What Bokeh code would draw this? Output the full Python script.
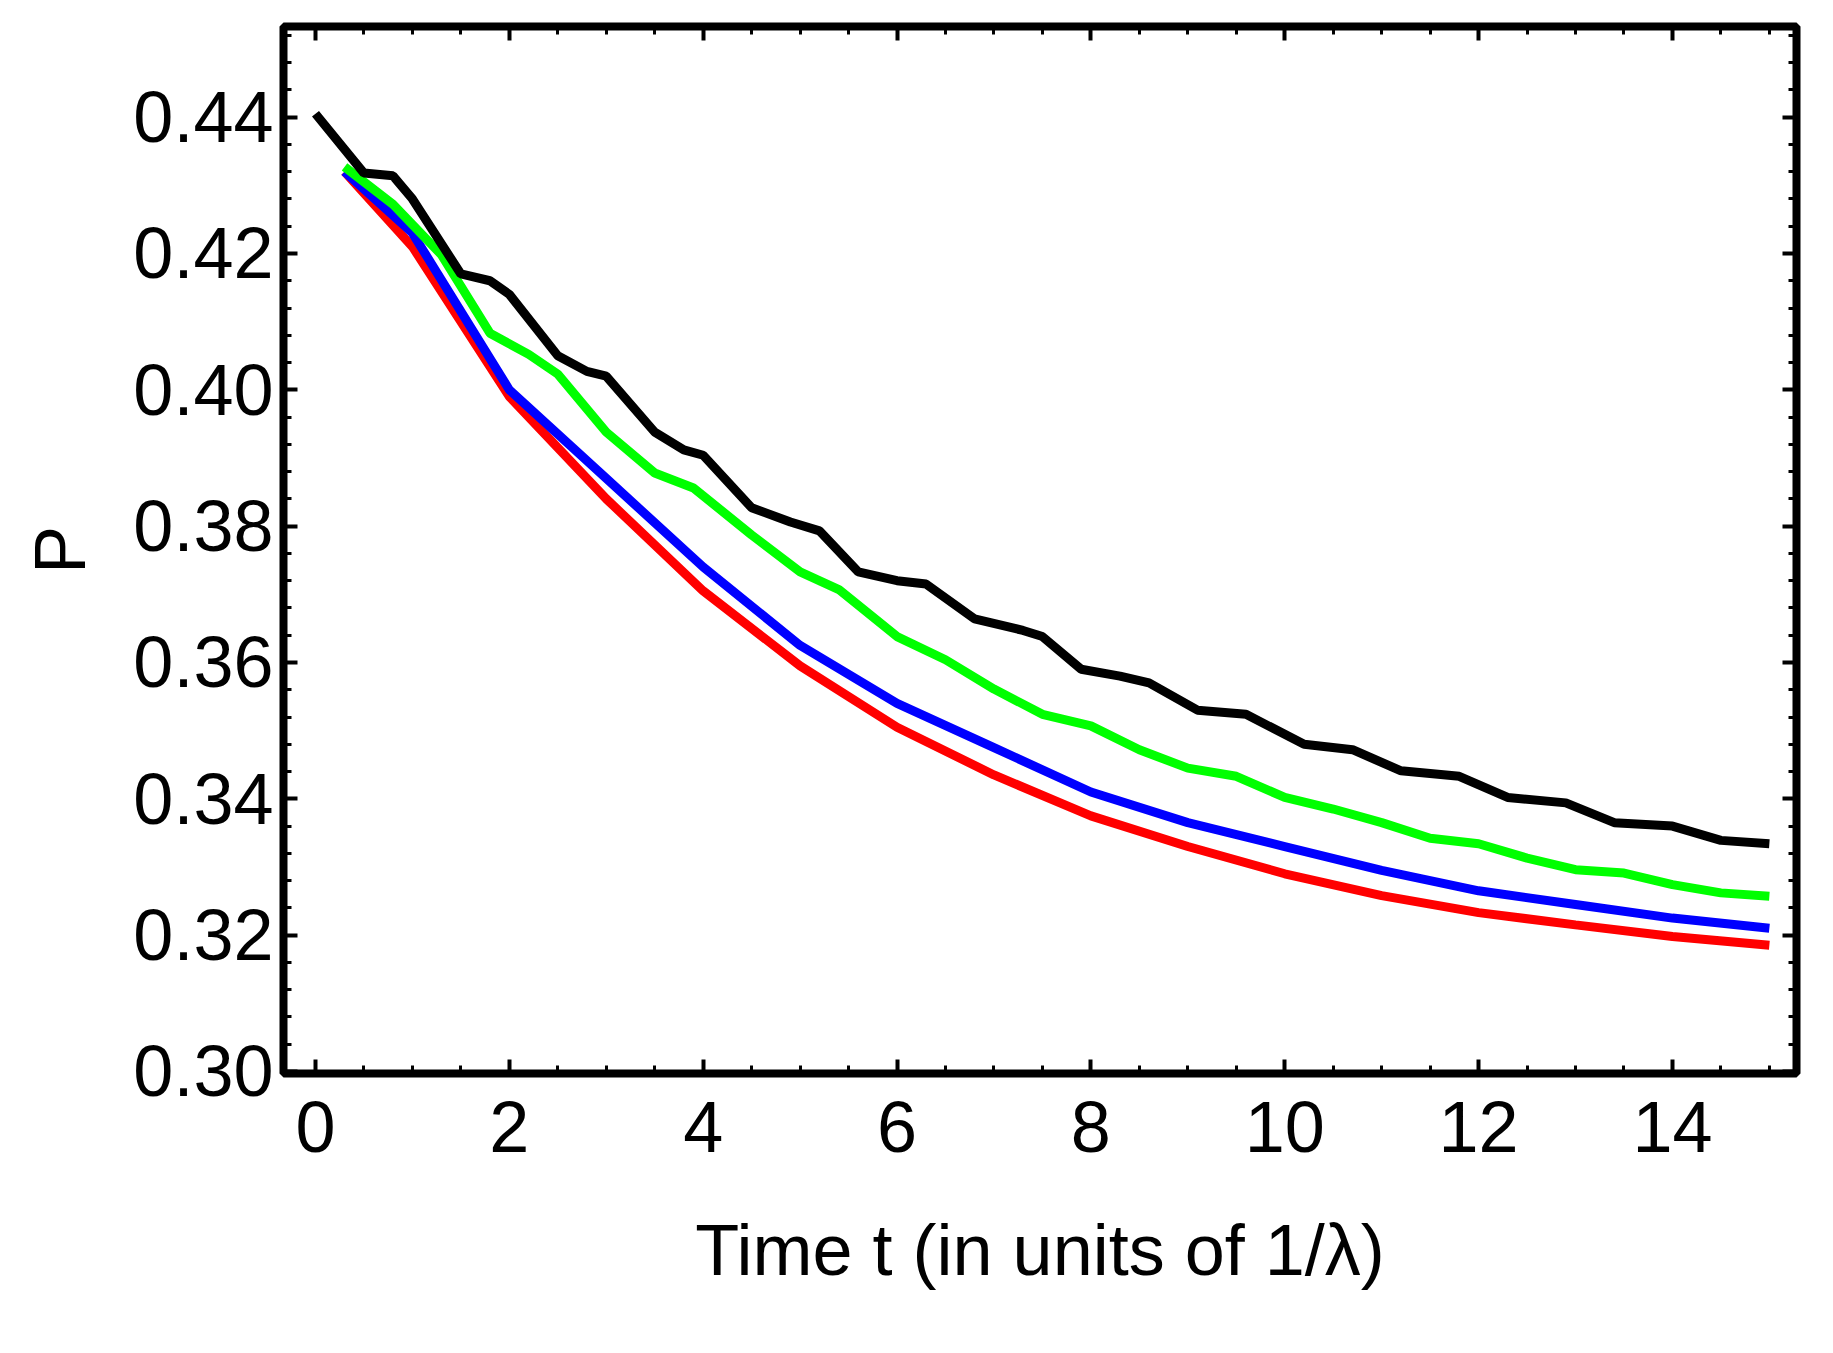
from bokeh.plotting import figure
from bokeh.models import LinearAxis, Range1d, FixedTicker
from bokeh.embed import file_html
from bokeh.resources import INLINE

t_black = [0,0.5,0.8,1.0,1.5,1.8,2.0,2.5,2.8,3.0,3.5,3.8,4.0,4.5,4.9,5.2,5.6,6.0,6.3,6.8,7.3,7.5,7.9,8.3,8.6,9.1,9.6,10.2,10.7,11.2,11.8,12.3,12.9,13.4,14.0,14.5,15.0]
p_black = [0.4405,0.4318,0.4314,0.428,0.417,0.416,0.414,0.405,0.4027,0.402,0.3938,0.3912,0.3904,0.3827,0.3806,0.3793,0.3733,0.372,0.3715,0.3664,0.3647,0.3638,0.359,0.358,0.357,0.353,0.3524,0.348,0.3472,0.3441,0.3433,0.3402,0.3394,0.3365,0.336,0.3339,0.3334]
t_green = [0.3,0.8,1.3,1.8,2.2,2.5,3.0,3.5,3.9,4.5,5.0,5.4,6.0,6.5,7.0,7.5,8.0,8.5,9.0,9.5,10.0,10.5,11.0,11.5,12.0,12.5,13.0,13.5,14.0,14.5,15.0]
p_green = [0.4327,0.4272,0.4198,0.4083,0.4052,0.4023,0.3938,0.3878,0.3856,0.3787,0.3733,0.3707,0.3638,0.3604,0.3561,0.3524,0.3507,0.3472,0.3445,0.3433,0.3402,0.3385,0.3365,0.3342,0.3334,0.3313,0.3296,0.3291,0.3274,0.3262,0.3257]
t_blue = [0.3,1,2,3,4,5,6,7,8,9,10,11,12,13,14,15]
p_blue = [0.432,0.423,0.400,0.387,0.374,0.3625,0.354,0.3475,0.341,0.3365,0.333,0.3295,0.3265,0.3245,0.3225,0.321]
t_red = [0.3,1,2,3,4,5,6,7,8,9,10,11,12,13,14,15]
p_red = [0.432,0.421,0.399,0.384,0.3705,0.3595,0.3505,0.3435,0.3375,0.333,0.329,0.3258,0.3233,0.3215,0.3198,0.3185]
x_ticks = [0,2,4,6,8,10,12,14]
y_ticks = [0.30,0.32,0.34,0.36,0.38,0.40,0.42,0.44]

p = figure(width=1817, height=1337, output_backend="svg", toolbar_location=None,
           x_range=Range1d(-0.33, 15.28), y_range=Range1d(0.2997, 0.4533),
           min_border_left=283, min_border_right=21, min_border_top=26, min_border_bottom=264)
p.grid.visible = False
p.outline_line_color = "black"
p.outline_line_width = 8

FONT = "Liberation Sans"
for ax in p.xaxis + p.yaxis:
    ax.axis_line_color = None
    ax.major_tick_in = 14
    ax.major_tick_out = 0
    ax.minor_tick_in = 8
    ax.minor_tick_out = 0
    ax.major_tick_line_width = 4
    ax.minor_tick_line_width = 3
    ax.major_label_text_font = FONT
    ax.major_label_text_font_size = "72px"
    ax.major_label_text_color = "black"
    ax.axis_label_text_font = FONT
    ax.axis_label_text_font_size = "72px"
    ax.axis_label_text_color = "black"
    ax.axis_label_text_font_style = "normal"
p.xaxis.ticker = FixedTicker(ticks=x_ticks, minor_ticks=[i*0.5 for i in range(0, 31)])
p.yaxis.ticker = FixedTicker(ticks=y_ticks, minor_ticks=[0.30+i*0.004 for i in range(0, 39)])
p.xaxis.major_label_overrides = {v: str(v) for v in x_ticks}
p.yaxis.major_label_overrides = {v: f"{v:.2f}" for v in y_ticks}
p.xaxis.axis_label = "Time t (in units of 1/\u03bb)"
p.yaxis.axis_label = "P"
p.xaxis.major_label_standoff = 28
p.yaxis.major_label_standoff = 10
p.yaxis.axis_label_standoff = 30
p.xaxis.axis_label_standoff = 55

for loc in ("above", "right"):
    ax = LinearAxis()
    ax.axis_line_color = None
    ax.major_label_text_font_size = "0px"
    ax.major_tick_in = 14; ax.major_tick_out = 0
    ax.minor_tick_in = 8; ax.minor_tick_out = 0
    ax.major_tick_line_width = 4; ax.minor_tick_line_width = 3
    if loc == "above":
        ax.ticker = FixedTicker(ticks=x_ticks, minor_ticks=[i*0.5 for i in range(0, 31)])
    else:
        ax.ticker = FixedTicker(ticks=y_ticks, minor_ticks=[0.30+i*0.004 for i in range(0, 39)])
    p.add_layout(ax, loc)

p.line(t_red, p_red, line_color="#ff0000", line_width=9)
p.line(t_blue, p_blue, line_color="#0000ff", line_width=9)
p.line(t_green, p_green, line_color="#00ff00", line_width=9)
p.line(t_black, p_black, line_color="#000000", line_width=9)

open("out.html", "w").write(file_html(p, INLINE))
